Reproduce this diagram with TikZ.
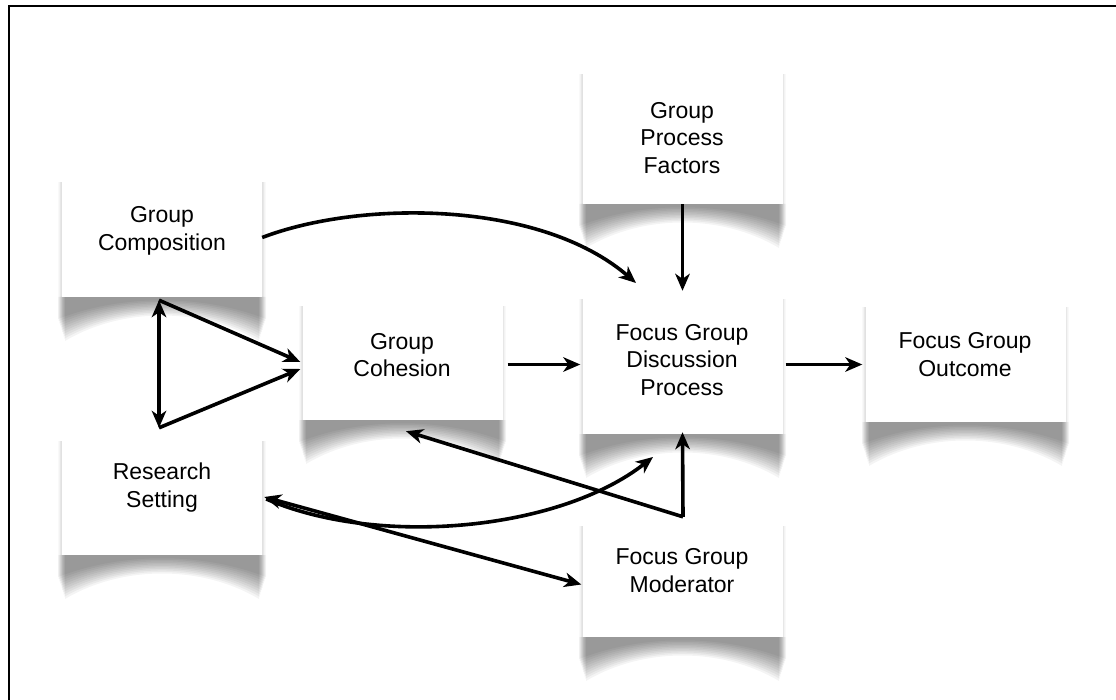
\documentclass[tikz,border=0pt]{standalone}
\usepackage{fontspec}
\setmainfont{Liberation Sans}
\usetikzlibrary{arrows.meta,calc}

\tikzset{
  card/.style={fill=white, draw=none, minimum width=200pt, inner sep=0pt},
  caption/.style={align=center, font=\fontsize{23}{27.5}\selectfont, inner sep=0pt},
  link/.style={line width=3.6pt, -{Stealth[length=17pt,width=14.5pt,inset=5pt]}},
  duplex/.style={line width=3.6pt, {Stealth[length=17pt,width=14.5pt,inset=5pt]}-{Stealth[length=17pt,width=14.5pt,inset=5pt]}},
}

% soft side shade and curled drop shadow under a card: left, right, top, bottom
\newcommand\cardshade[4]{%
  \foreach \k in {1,...,5}{%
    \fill[black, opacity=0.022] (#1-\k*0.8, #3+4) rectangle (#2+\k*0.8, #4);
  }%
  \foreach \k in {0,...,10}{%
    \fill[black, opacity=0.045]
      (#1-4+\k*0.7, #4) -- (#2+4-\k*0.7, #4) -- (#2+4-\k*0.7, #4+22+\k*2.2)
      .. controls (#2-60, #4-3+\k*1.3) and (#1+60, #4-3+\k*1.3) ..
      (#1-4+\k*0.7, #4+22+\k*2.2) -- cycle;
  }%
}

\begin{document}
\begin{tikzpicture}[x=1pt, y=-1pt]
\useasboundingbox (0,0) rectangle (1116,700);
\fill[white] (0,0) rectangle (1116,700);

% frame
\draw[line width=1.8pt] (9,700) -- (9,6) -- (1116,6);

% shadows
\cardshade{62}{262}{178}{297}
\cardshade{583}{782}{70}{204}
\cardshade{62}{262}{437}{555}
\cardshade{583}{782}{522}{637}
\cardshade{303}{502}{302}{420}
\cardshade{583}{782}{295}{434}
\cardshade{866}{1065}{303}{422}

% cards
\node[card, minimum height=119pt] (gc)   at (162,237.5) {};
\node[card, minimum height=134pt] (pf)   at (682.5,137) {};
\node[card, minimum height=118pt] (rs)   at (162,496) {};
\node[card, minimum height=115pt] (mod)  at (682.5,579.5) {};
\node[card, minimum height=118pt] (coh)  at (402.5,361) {};
\node[card, minimum height=139pt] (disc) at (682.5,364.5) {};
\node[card, minimum height=119pt] (out)  at (965.5,362.5) {};

% captions
\node[caption] (gcT)   at (162,231)   {Group\\Composition};
\node[caption] (pfT)   at (682,138)   {Group\\Process\\Factors};
\node[caption] (rsT)   at (162,487.5) {Research\\Setting};
\node[caption] (modT)  at (682,570.5) {Focus Group\\Moderator};
\node[caption] (cohT)  at (402,355)   {Group\\Cohesion};
\node[caption] (discT) at (682,360)   {Focus Group\\Discussion\\Process};
\node[caption] (outT)  at (965,354.5) {Focus Group\\Outcome};

% connector ends
\coordinate (gcfoot)  at ([xshift=-3pt, yshift=-3pt]gc.south);
\coordinate (rshead)  at ([xshift=-3pt, yshift=9pt]rs.north);
\coordinate (cohin1)  at ([xshift=-2pt, yshift=-1pt]coh.west);
\coordinate (cohin2)  at ([xshift=-2pt, yshift=-8pt]coh.west);
\coordinate (cohfoot) at ([xshift=3.5pt, yshift=-11pt]coh.south);
\coordinate (discin)  at (636,283);
\coordinate (discfoot) at (653,457);
\coordinate (modtop)  at ([xshift=0.5pt, yshift=5pt]mod.north);
\coordinate (rsport)  at ([xshift=2pt, yshift=-1pt]rs.east);
\coordinate (rsport2) at ([xshift=4pt, yshift=-3pt]rs.east);
\coordinate (modport) at ([xshift=-1pt, yshift=-5pt]mod.west);

% connectors
\draw[link] (gc.east) .. controls (360,200) and (540,200) .. (discin);
\draw[link, shorten >=4pt] (pf.south) -- (disc.north);
\draw[duplex] (gcfoot) -- (rshead);
\draw[link] (gcfoot) -- (cohin1);
\draw[link] (rshead) -- (cohin2);
\draw[link, shorten <=5pt, shorten >=2pt] (coh.east |- disc.west) -- (disc.west);
\draw[link, shorten <=3pt, shorten >=3pt] (disc.east) -- (out.west |- disc.east);
\draw[link] (modtop) -- ([yshift=2pt]disc.south);
\draw[link] (modtop) -- (cohfoot);
\draw[duplex] (rsport) -- (modport);
\draw[link] (rsport2) .. controls (380,548) and (560,530) .. (discfoot);
\end{tikzpicture}
\end{document}
